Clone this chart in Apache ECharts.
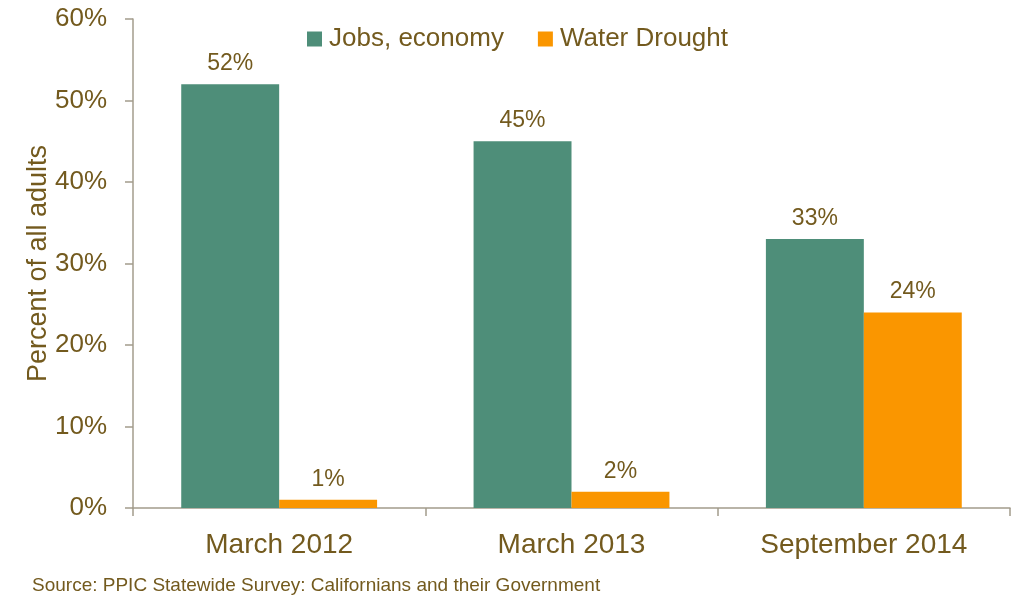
<!DOCTYPE html>
<html><head><meta charset="utf-8">
<script src="https://cdn.jsdelivr.net/npm/echarts@6/dist/echarts.min.js"></script>
<style>html,body{margin:0;padding:0;background:#fff}#c{width:1035px;height:605px}</style>
</head><body><div id="c"></div>
<script>
const categories = ["March 2012", "March 2013", "September 2014"];
const jobsEconomy = [52, 45, 33];
const waterDrought = [1, 2, 24];
const seriesNames = ["Jobs, economy", "Water Drought"];
const yTicks = [0, 10, 20, 30, 40, 50, 60];

const txt = '#735a1e';
const axisCol = '#a39c8c';
const font = '"Liberation Sans", Arial, sans-serif';
const chart = echarts.init(document.getElementById('c'));
chart.setOption({
  animation: false,
  textStyle: {fontFamily: font},
  legend: {
    top: 21, left: 'center', itemWidth: 15, itemHeight: 15, itemGap: 34,
    icon: 'rect',
    textStyle: {color: txt, fontSize: 26, fontFamily: font, padding: [0, 0, 0, 2]},
    data: seriesNames
  },
  grid: {left: 133, right: 25, top: 19, bottom: 97},
  xAxis: {
    type: 'category', data: categories,
    axisLine: {lineStyle: {color: axisCol, width: 1.5}},
    axisTick: {show: true, length: 8, lineStyle: {color: axisCol, width: 1.5}, alignWithLabel: false},
    axisLabel: {color: txt, fontSize: 28, margin: 23, fontFamily: font}
  },
  yAxis: {
    type: 'value', min: yTicks[0], max: yTicks[yTicks.length - 1], interval: 10,
    name: 'Percent of all adults', nameLocation: 'middle', nameGap: 81, nameMoveOverlap: false,
    nameTextStyle: {color: txt, fontSize: 27, fontFamily: font},
    axisLine: {show: true, lineStyle: {color: axisCol, width: 1.5}},
    axisTick: {show: true, length: 8, inside: false, lineStyle: {color: axisCol, width: 1.5}},
    splitLine: {show: false},
    axisLabel: {color: txt, fontSize: 26, margin: 26, fontFamily: font, formatter: v => v + '%'}
  },
  series: [
    {name: seriesNames[0], type: 'bar', data: jobsEconomy, barGap: '0%', barCategoryGap: '33%',
     itemStyle: {color: '#4e8e79'},
     label: {show: true, position: 'top', distance: 9, color: txt, fontSize: 23, fontFamily: font, formatter: p => p.value + '%'}},
    {name: seriesNames[1], type: 'bar', data: waterDrought, barGap: '0%', barCategoryGap: '33%',
     itemStyle: {color: '#fa9600'},
     label: {show: true, position: 'top', distance: 9, color: txt, fontSize: 23, fontFamily: font, formatter: p => p.value + '%'}}
  ],
  graphic: [{type: 'text', left: 32, top: 576,
    style: {text: 'Source: PPIC Statewide Survey: Californians and their Government', fill: txt, fontSize: 19, fontFamily: font}}]
});
</script></body></html>
